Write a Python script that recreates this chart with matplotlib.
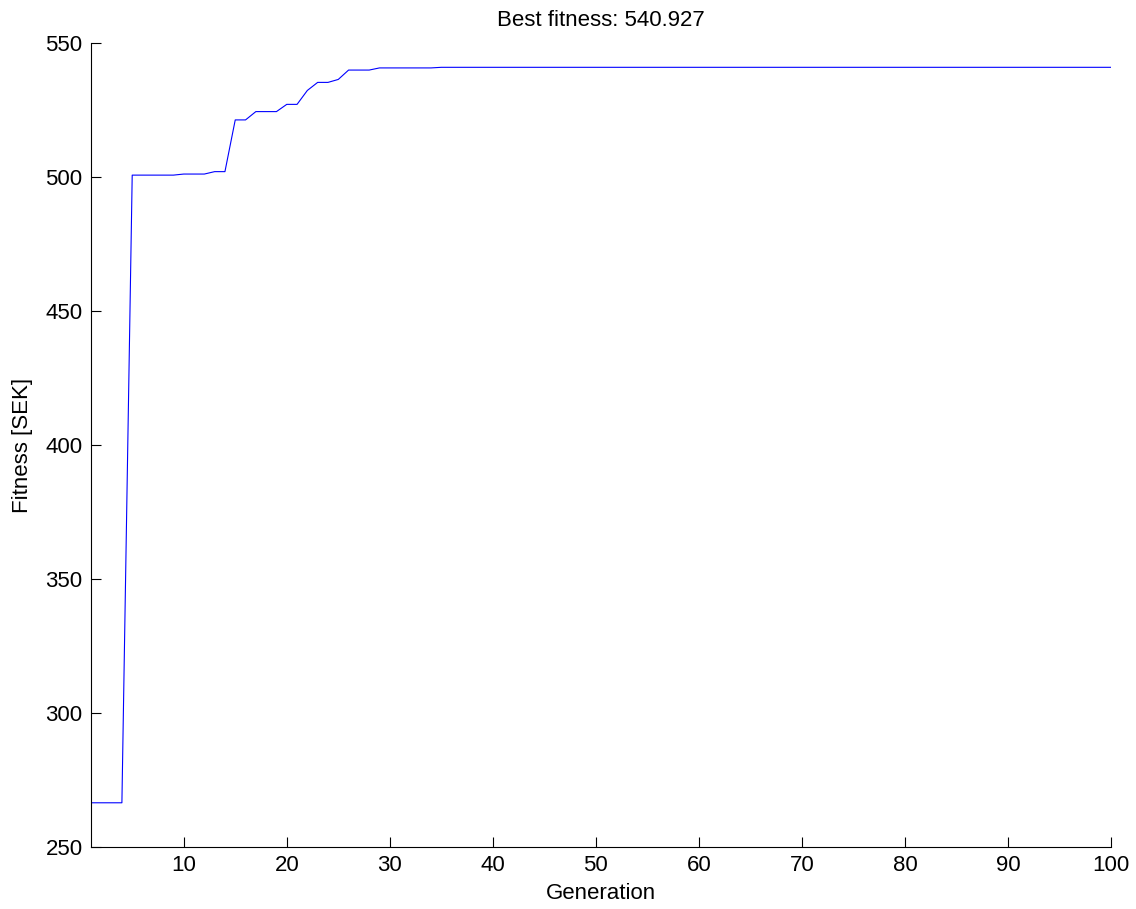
import matplotlib
matplotlib.use("Agg")
import matplotlib.pyplot as plt
import numpy as np

plt.rcParams['font.family'] = ['Liberation Sans', 'DejaVu Sans']

# Best fitness per generation
early_gens = list(range(1, 36))
early_fitness = [266.5, 266.5, 266.5, 266.5, 500.7, 500.7, 500.7, 500.7, 500.7, 501.1,
                 501.1, 501.1, 502.0, 502.0, 521.3, 521.3, 524.4, 524.4, 524.4, 527.1,
                 527.1, 532.3, 535.3, 535.3, 536.4, 539.9, 539.9, 539.9, 540.7, 540.7,
                 540.7, 540.7, 540.7, 540.7, 540.927]
final_fitness = 540.927
n_generations = 100

generations = np.arange(1, n_generations + 1)
fitness = np.array(early_fitness + [final_fitness] * (n_generations - len(early_fitness)))

fig = plt.figure(figsize=(11.36, 9.09), dpi=100)
ax = fig.add_axes([0.0801, 0.0682, 0.8979, 0.8845])
ax.plot(generations, fitness, color=(0, 0, 1), linewidth=0.8)

ax.set_xlim(1, 100)
ax.set_ylim(250, 550)
ax.set_xticks(np.arange(10, 101, 10))
ax.set_yticks(np.arange(250, 551, 50))
ax.spines['top'].set_visible(False)
ax.spines['right'].set_visible(False)
for s in ['left', 'bottom']:
    ax.spines[s].set_linewidth(0.8)
ax.tick_params(direction='in', length=7, width=0.8, labelsize=16, pad=6)
ax.set_xlabel('Generation', fontsize=16, labelpad=5)
ax.set_ylabel('Fitness [SEK]', fontsize=16, labelpad=9)
ax.set_title('Best fitness: 540.927', fontsize=16, pad=12)

fig.savefig('out.png', dpi=100)
